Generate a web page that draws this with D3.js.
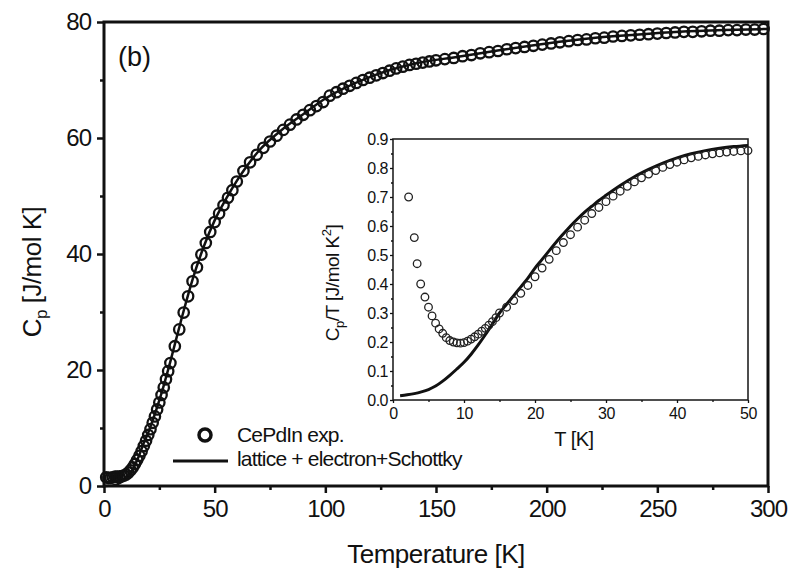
<!DOCTYPE html>
<html>
<head>
<meta charset="utf-8">
<script src="https://cdn.jsdelivr.net/npm/d3@7"></script>
<style>
  html, body { margin: 0; padding: 0; background: #fff; }
  svg { display: block; font-family: "Liberation Sans", Arial, sans-serif; }
</style>
</head>
<body>
<svg id="chart" width="800" height="573"></svg>
<script>
// ---------- Main panel data: Cp vs T ----------
const mainTemp = [1,2,3,4,5,6,7,8,9,10,11,12,13,14,15,16,17,18,19,20,21,22,23,24,25,26,27,28,29,30,
  32,34,36,38,40,42,44,46,48,50,52,54,56,58,60,
  63,66,69,72,75,78,81,84,87,90,93,96,99,102,105,108,111,114,117,120,123,126,129,132,135,138,141,144,147,150,
  154,158,162,166,170,174,178,182,186,190,194,198,202,206,210,214,218,222,226,230,234,238,242,246,250,
  254,258,262,266,270,274,278,282,286,290,294,298];
const mainCp = [1.5,1.4,1.4,1.5,1.6,1.6,1.6,1.7,1.8,2.0,2.3,2.7,3.2,3.8,4.5,5.2,6.0,6.9,7.8,8.8,9.8,10.9,12.0,13.2,14.4,15.7,17.0,18.4,19.8,21.2,
  24.1,27.0,29.9,32.7,35.3,37.7,39.9,41.9,43.8,45.5,47.0,48.4,49.7,51.0,52.5,
  54.3,55.8,57.1,58.3,59.4,60.4,61.4,62.3,63.2,64.0,64.8,65.5,66.2,67.3,67.9,68.5,69.0,69.5,70.0,70.4,70.8,71.2,71.6,72.0,72.3,72.6,72.8,73.0,73.2,73.4,
  73.6,73.8,74.1,74.3,74.6,74.8,75.0,75.3,75.5,75.7,75.9,76.1,76.3,76.5,76.7,76.9,77.0,77.2,77.3,77.5,77.6,77.7,77.8,77.9,78.0,
  78.1,78.2,78.3,78.3,78.4,78.5,78.5,78.6,78.6,78.7,78.7,78.8];

const fitTemp = [0,2,4,6,8,10,12,14,16,18,20,22,24,26,28,30,35,40,45,50,55,60,70,80,90,100,120,140,160,180,200,220,240,260,280,300];
const fitCp = [0,0.04,0.11,0.29,0.68,1.3,2.28,3.67,5.4,7.45,9.2,11.3,13.6,16.0,18.7,21.5,28.8,35.6,41.2,45.8,49.4,52.6,57.8,61.3,64.1,66.8,70.5,72.8,74.0,75.2,76.3,77.2,77.8,78.3,78.6,78.8];

const mainXTicks = [0,50,100,150,200,250,300];
const mainXMinor = [25,75,125,175,225,275];
const mainYTicks = [0,20,40,60,80];
const mainYMinor = [10,30,50,70];

// ---------- Inset data: Cp/T vs T ----------
const insetTemp = [2.2,3.0,3.4,3.9,4.5,5.0,5.5,6.0,6.5,7.0,7.5,8.0,8.5,9.0,9.5,10,10.5,11,11.5,12,12.5,13,13.5,14,14.5,
  15,16,17,18,19,20,21,22,23,24,25,26,27,28,29,30,31,32,33,34,35,36,37,38,39,40,41,42,43,44,45,46,47,48,49,50];
const insetCpT = [0.70,0.56,0.47,0.40,0.355,0.32,0.29,0.265,0.245,0.23,0.215,0.205,0.20,0.197,0.196,0.198,0.203,0.21,0.218,0.227,0.237,0.247,0.258,0.27,0.284,
  0.30,0.32,0.343,0.368,0.395,0.425,0.455,0.485,0.515,0.543,0.57,0.596,0.62,0.643,0.664,0.684,0.703,0.72,0.737,0.752,0.766,0.779,0.791,0.802,0.812,0.82,0.828,0.835,0.84,0.845,0.849,0.852,0.855,0.857,0.859,0.86];

const insetFitT = [1,2,3,4,5,6,7,8,9,10,11,12,13,14,15,16,17,18,19,20,21,22,23,24,25,26,27,28,29,30,32,34,36,38,40,42,44,46,48,50];
const insetFitCpT = [0.015,0.018,0.022,0.028,0.036,0.048,0.065,0.085,0.107,0.13,0.158,0.19,0.225,0.262,0.30,0.33,0.36,0.39,0.42,0.455,0.485,0.515,0.545,0.573,0.60,0.625,0.648,0.668,0.688,0.706,0.74,0.77,0.795,0.817,0.835,0.849,0.86,0.868,0.874,0.878];

const insetXTicks = [0,10,20,30,40,50];
const insetXMinor = [5,15,25,35,45];
const insetYTicks = [0,0.1,0.2,0.3,0.4,0.5,0.6,0.7,0.8,0.9];
const insetYMinor = [0.05,0.15,0.25,0.35,0.45,0.55,0.65,0.75,0.85];

const svg = d3.select("#chart");
svg.append("rect").attr("width", 800).attr("height", 573).attr("fill", "#fff");

// ---------- Main panel ----------
const x = d3.scaleLinear().domain([0, 300]).range([104, 768]);
const y = d3.scaleLinear().domain([0, 80]).range([486, 22]);

function styleAxis(g, fontSize, strokeW, ls) {
  g.select(".domain").remove();
  g.selectAll(".tick line").attr("stroke", "#111").attr("stroke-width", strokeW);
  g.selectAll(".tick text").attr("fill", "#111").style("font-size", fontSize + "px")
    .style("font-family", '"Liberation Sans", Arial, sans-serif').style("letter-spacing", ls + "px");
}

const gx = svg.append("g").attr("transform", "translate(0,486)")
  .call(d3.axisBottom(x).tickValues(mainXTicks).tickSize(7).tickPadding(7).tickFormat(d3.format("d")));
styleAxis(gx, 24, 2.5, -1);
const gxm = svg.append("g").attr("transform", "translate(0,486)")
  .call(d3.axisBottom(x).tickValues(mainXMinor).tickSize(4).tickFormat(""));
styleAxis(gxm, 24, 2.5, 0);

const gy = svg.append("g").attr("transform", "translate(104,0)")
  .call(d3.axisLeft(y).tickValues(mainYTicks).tickSize(7).tickPadding(6).tickFormat(d3.format("d")));
styleAxis(gy, 24, 2.5, -1);
const gym = svg.append("g").attr("transform", "translate(104,0)")
  .call(d3.axisLeft(y).tickValues(mainYMinor).tickSize(4).tickFormat(""));
styleAxis(gym, 24, 2.5, 0);

// frame
svg.append("rect").attr("x", x(0)).attr("y", y(80)).attr("width", x(300) - x(0)).attr("height", y(0) - y(80))
  .attr("fill", "none").attr("stroke", "#111").attr("stroke-width", 3);

// fit line (main)
const mainLine = d3.line().x((d, i) => x(fitTemp[i])).y((d, i) => y(fitCp[i])).curve(d3.curveMonotoneX);
svg.append("path").datum(fitCp).attr("d", mainLine).attr("fill", "none").attr("stroke", "#111").attr("stroke-width", 2.5);

// circles (main)
svg.append("g").selectAll("circle").data(mainCp).join("circle")
  .attr("cx", (d, i) => x(mainTemp[i])).attr("cy", d => y(d)).attr("r", 5.2)
  .attr("fill", "none").attr("stroke", "#111").attr("stroke-width", 2.3);

// labels
svg.append("text").attr("x", 118).attr("y", 66).style("font-size", "27px").attr("fill", "#111").text("(b)");

svg.append("text").attr("x", 436).attr("y", 563).attr("text-anchor", "middle")
  .style("font-size", "26px").style("letter-spacing", "-0.5px").attr("fill", "#111").text("Temperature [K]");

const yl = svg.append("text").attr("transform", "translate(41,272) rotate(-90)").attr("text-anchor", "middle")
  .style("font-size", "26px").style("letter-spacing", "-0.5px").attr("fill", "#111");
yl.append("tspan").text("C");
yl.append("tspan").attr("dy", 6).style("font-size", "17px").text("p");
yl.append("tspan").attr("dy", -6).text(" [J/mol K]");

// legend
svg.append("circle").attr("cx", 205).attr("cy", 435).attr("r", 6).attr("fill", "none").attr("stroke", "#111").attr("stroke-width", 3.5);
svg.append("text").attr("x", 237).attr("y", 442).style("font-size", "21px").style("letter-spacing", "-0.8px").attr("fill", "#111").text("CePdIn exp.");
svg.append("line").attr("x1", 173).attr("x2", 228).attr("y1", 461).attr("y2", 461).attr("stroke", "#111").attr("stroke-width", 3);
svg.append("text").attr("x", 237).attr("y", 466).style("font-size", "21px").style("letter-spacing", "-0.8px").attr("fill", "#111").text("lattice + electron+Schottky");

// ---------- Inset ----------
const xi = d3.scaleLinear().domain([0, 50]).range([393, 748]);
const yi = d3.scaleLinear().domain([0, 0.9]).range([400, 139]);

svg.append("rect").attr("x", xi(0)).attr("y", yi(0.9)).attr("width", xi(50) - xi(0)).attr("height", yi(0) - yi(0.9))
  .attr("fill", "#fff").attr("stroke", "#222").attr("stroke-width", 1.6);

const gxi = svg.append("g").attr("transform", "translate(0,400)")
  .call(d3.axisBottom(xi).tickValues(insetXTicks).tickSize(3).tickPadding(5).tickFormat(d3.format("d")));
styleAxis(gxi, 16, 1.3, -0.5);
const gxim = svg.append("g").attr("transform", "translate(0,400)")
  .call(d3.axisBottom(xi).tickValues(insetXMinor).tickSize(2).tickFormat(""));
styleAxis(gxim, 16, 1.3, 0);
const gyi = svg.append("g").attr("transform", "translate(393,0)")
  .call(d3.axisLeft(yi).tickValues(insetYTicks).tickSize(3).tickPadding(2).tickFormat(d3.format(".1f")));
styleAxis(gyi, 16, 1.3, -0.5);
const gyim = svg.append("g").attr("transform", "translate(393,0)")
  .call(d3.axisLeft(yi).tickValues(insetYMinor).tickSize(2).tickFormat(""));
styleAxis(gyim, 16, 1.3, 0);

const insetLine = d3.line().x((d, i) => xi(insetFitT[i])).y((d, i) => yi(insetFitCpT[i])).curve(d3.curveMonotoneX);
svg.append("path").datum(insetFitCpT).attr("d", insetLine).attr("fill", "none").attr("stroke", "#111").attr("stroke-width", 3);

svg.append("g").selectAll("circle").data(insetCpT).join("circle")
  .attr("cx", (d, i) => xi(insetTemp[i])).attr("cy", d => yi(d)).attr("r", 3.8)
  .attr("fill", "none").attr("stroke", "#222").attr("stroke-width", 1.3);

svg.append("text").attr("x", 574).attr("y", 446).attr("text-anchor", "middle")
  .style("font-size", "20px").style("letter-spacing", "-0.5px").attr("fill", "#111").text("T [K]");

const yli = svg.append("text").attr("transform", "translate(339,283) rotate(-90)").attr("text-anchor", "middle")
  .style("font-size", "19px").style("letter-spacing", "-0.5px").attr("fill", "#111");
yli.append("tspan").text("C");
yli.append("tspan").attr("dy", 5).style("font-size", "13px").text("p");
yli.append("tspan").attr("dy", -5).text("/T [J/mol K");
yli.append("tspan").attr("dy", -8).style("font-size", "13px").text("2");
yli.append("tspan").attr("dy", 8).text("]");
</script>
</body>
</html>
